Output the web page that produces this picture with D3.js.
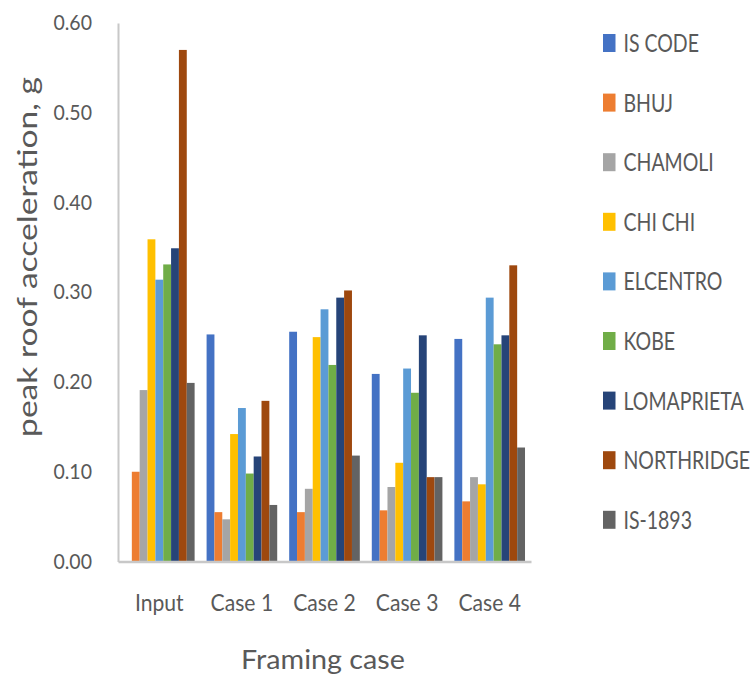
<!DOCTYPE html>
<html>
<head>
<meta charset="utf-8">
<script src="https://cdn.jsdelivr.net/npm/d3@7"></script>
<style>
  html, body { margin: 0; padding: 0; background: #fff; }
  svg { display: block; }
  text { font-family: Lato, "Open Sans", sans-serif; fill: #595959; }
</style>
</head>
<body>
<svg id="chart" width="754" height="679"></svg>
<script>
// Framing cases along the category axis
const cases = ["Input", "Case 1", "Case 2", "Case 3", "Case 4"];

// Ground-motion records / code spectra, one bar each per case
const series = ["IS CODE", "BHUJ", "CHAMOLI", "CHI CHI", "ELCENTRO", "KOBE", "LOMAPRIETA", "NORTHRIDGE", "IS-1893"];

// Peak roof acceleration (g), one array per record, ordered as `cases`
const isCode     = [null,  0.253, 0.256, 0.209, 0.248];
const bhuj       = [0.100, 0.055, 0.055, 0.057, 0.067];
const chamoli    = [0.191, 0.047, 0.081, 0.083, 0.094];
const chiChi     = [0.359, 0.142, 0.250, 0.110, 0.086];
const elcentro   = [0.314, 0.171, 0.281, 0.215, 0.294];
const kobe       = [0.331, 0.098, 0.219, 0.188, 0.242];
const lomaprieta = [0.349, 0.117, 0.294, 0.252, 0.252];
const northridge = [0.570, 0.179, 0.302, 0.094, 0.330];
const is1893     = [0.199, 0.063, 0.118, 0.094, 0.127];

// Value-axis ticks
const yTicks = [0, 0.1, 0.2, 0.3, 0.4, 0.5, 0.6];

const seriesValues = [isCode, bhuj, chamoli, chiChi, elcentro, kobe, lomaprieta, northridge, is1893];
const colors = ["#4472C4", "#ED7D31", "#A5A5A5", "#FFC000", "#5B9BD5", "#70AD47", "#264478", "#9E480E", "#636363"];

const svg = d3.select("#chart");

const plot = { left: 118, right: 531, top: 23, bottom: 561.5 };

const x = d3.scaleBand()
  .domain(cases)
  .range([plot.left, plot.right])
  .paddingInner(0.145)
  .paddingOuter(0.0725);

const xSub = d3.scaleBand()
  .domain(series)
  .range([0, x.bandwidth()])
  .padding(0);

const y = d3.scaleLinear()
  .domain([0, 0.6])
  .range([plot.bottom, plot.top]);

const color = d3.scaleOrdinal().domain(series).range(colors);

// Bars
const rows = [];
series.forEach((s, si) => {
  cases.forEach((c, ci) => {
    const v = seriesValues[si][ci];
    if (v != null) rows.push({ series: s, cat: c, value: v });
  });
});

svg.append("g")
  .selectAll("rect")
  .data(rows)
  .join("rect")
  .attr("x", d => x(d.cat) + xSub(d.series))
  .attr("y", d => y(d.value))
  .attr("width", xSub.bandwidth())
  .attr("height", d => y(0) - y(d.value))
  .attr("fill", d => color(d.series));

// Narrow the glyphs horizontally while keeping the anchor point in place
function narrow(sel, sx) {
  sel.each(function () {
    const t = d3.select(this);
    const x0 = +t.attr("x") || 0;
    t.attr("x", x0 / sx).attr("transform", `scale(${sx},1)`);
  });
}

// Value axis
const yAxis = svg.append("g")
  .attr("transform", `translate(${plot.left},0)`)
  .call(d3.axisLeft(y).tickValues(yTicks).tickFormat(d3.format(".2f")).tickSize(0).tickPadding(26));
yAxis.select(".domain").attr("stroke", "#c8c8c8").attr("stroke-width", 2);
yAxis.selectAll("text").style("font-size", "21px").attr("fill", "#595959").call(narrow, 0.93);

// Category axis
const xAxis = svg.append("g")
  .attr("transform", `translate(0,${plot.bottom})`)
  .call(d3.axisBottom(x).tickSize(0).tickPadding(33));
xAxis.select(".domain").attr("stroke", "#c8c8c8").attr("stroke-width", 2.5);
xAxis.selectAll("text").style("font-size", "23px").attr("fill", "#595959").call(narrow, 0.92);

// Axis titles, stretched along their reading direction to a set length
function fitAlong(t, target) {
  const len = t.node().getComputedTextLength();
  return target / len;
}

const yTitle = svg.append("text")
  .attr("text-anchor", "middle")
  .attr("dy", "0.265em")
  .style("font-size", "26px")
  .text("peak roof acceleration, g");
const ys = fitAlong(yTitle, 360);
yTitle.attr("transform", `translate(30,257) rotate(-90) scale(${ys},1)`);

const xTitle = svg.append("text")
  .attr("text-anchor", "middle")
  .style("font-size", "27px")
  .text("Framing case");
const xs = fitAlong(xTitle, 164);
xTitle.attr("transform", `translate(323,669) scale(${xs},1)`);

// Legend
const legend = svg.append("g")
  .selectAll("g")
  .data(series)
  .join("g")
  .attr("transform", (d, i) => `translate(603,${43 + i * 59.6})`);

legend.append("rect")
  .attr("x", 0)
  .attr("y", -9)
  .attr("width", 12.5)
  .attr("height", 18)
  .attr("fill", d => color(d));

legend.append("text")
  .attr("x", 20.5)
  .attr("y", 0)
  .attr("dy", "0.36em")
  .style("font-size", "25px")
  .text(d => d)
  .call(narrow, 0.78);
</script>
</body>
</html>
